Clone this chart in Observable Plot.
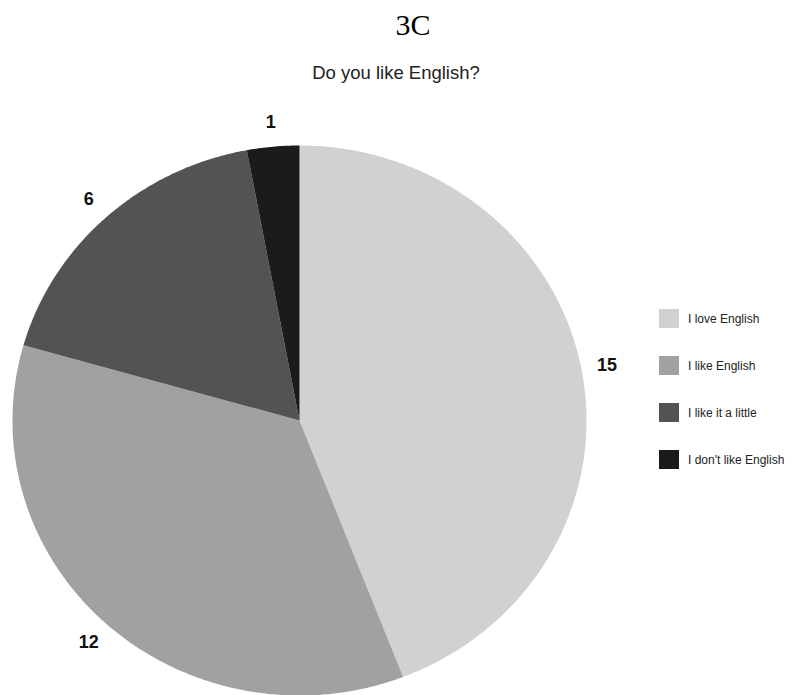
<!DOCTYPE html>
<html>
<head>
<meta charset="utf-8">
<script src="https://cdn.jsdelivr.net/npm/d3@7"></script>
<script src="https://cdn.jsdelivr.net/npm/@observablehq/plot@0.6"></script>
<style>
  html, body { margin: 0; padding: 0; background: #fff; }
  #wrap { position: relative; width: 799px; height: 695px; overflow: hidden; }
  #wrap svg { position: absolute; left: 0; top: 0; }
  .t { position: absolute; white-space: nowrap; transform: translateX(-50%); }
  #title { left: 413px; top: 8px; font: 30px "Liberation Serif", "Times New Roman", serif; color: #000; line-height: 34px; }
  #subtitle { left: 396px; top: 62px; font: 18.5px "Liberation Sans", Arial, sans-serif; color: #222; line-height: 22px; }
  #legend { position: absolute; left: 659px; top: 309px; font: 12px "Liberation Sans", Arial, sans-serif; color: #222; }
  .row { display: flex; align-items: center; height: 19px; margin-bottom: 28px; }
  .sw { width: 20px; height: 19px; margin-right: 9px; }
</style>
</head>
<body>
<div id="wrap">
  <div id="title" class="t">3C</div>
  <div id="subtitle" class="t">Do you like English?</div>
  <div id="legend"></div>
</div>
<script>
// Survey answers, in the order the slices run clockwise from twelve o'clock
const categories = ["I love English", "I like English", "I like it a little", "I don't like English"];
const counts = [15, 12, 6, 1];
const shades = ["#d1d1d1", "#a1a1a1", "#535353", "#1b1b1b"];

// Angles of each slice (radians, clockwise from the top)
const arcs = d3.pie().sort(null).value(d => d.count)(
  categories.map((category, i) => ({category, count: counts[i]}))
);

// Outline of every slice in unit-circle coordinates: centre, then the arc
const outline = [];
for (const a of arcs) {
  const cat = a.data.category;
  outline.push({category: cat, x: 0, y: 0});
  const steps = Math.max(2, Math.ceil((a.endAngle - a.startAngle) / (Math.PI / 360)));
  for (let k = 0; k <= steps; ++k) {
    const t = a.startAngle + (a.endAngle - a.startAngle) * k / steps;
    outline.push({category: cat, x: Math.sin(t), y: Math.cos(t)});
  }
  outline.push({category: cat, x: 0, y: 0});
}

// Value labels just outside each slice, at its middle angle
const labels = arcs.map(a => {
  const m = (a.startAngle + a.endAngle) / 2;
  return {text: String(a.data.count), x: 1.09 * Math.sin(m), y: 1.09 * Math.cos(m)};
});

const chart = Plot.plot({
  width: 799,
  height: 695,
  marginTop: 145,
  marginBottom: 0,
  marginLeft: 12,
  marginRight: 213,
  x: {domain: [-1, 1], axis: null},
  y: {domain: [-1, 1], axis: null},
  color: {domain: categories, range: shades},
  marks: [
    Plot.line(outline, {x: "x", y: "y", z: "category", fill: "category", stroke: "none", curve: "linear"}),
    Plot.text(labels, {
      x: "x", y: "y", text: "text",
      fontSize: 18, fontWeight: "bold", fill: "#111",
      fontFamily: "Liberation Sans, Arial, sans-serif"
    })
  ]
});
document.getElementById("wrap").prepend(chart);

// Legend: swatch and label per answer
const legend = d3.select("#legend");
categories.forEach((c, i) => {
  const row = legend.append("div").attr("class", "row");
  row.append("div").attr("class", "sw").style("background", shades[i]);
  row.append("span").text(c);
});
</script>
</body>
</html>
